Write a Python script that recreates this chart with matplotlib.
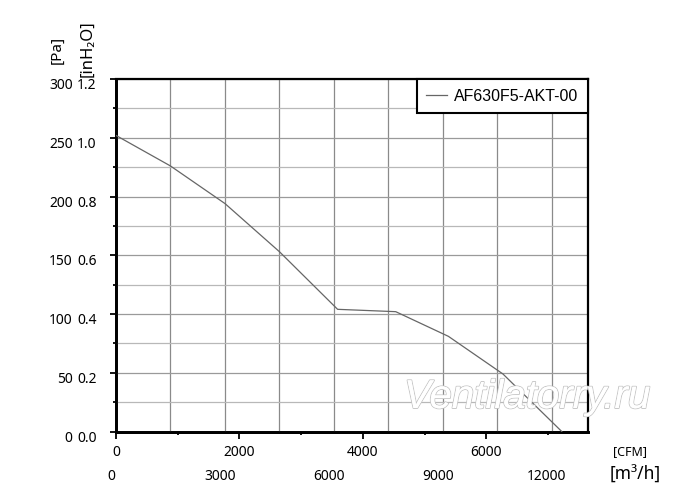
import numpy as np
import matplotlib
matplotlib.use('Agg')
import matplotlib.pyplot as plt
import matplotlib.patheffects as pe
from matplotlib.transforms import ScaledTranslation

plt.rcParams['font.family'] = ['Noto Sans', 'DejaVu Sans']

# curve (air flow in m3/h, static pressure in Pa)
flow_m3h = [0, 1500, 3000, 4500, 6100, 7700, 9150, 10650, 12270]
pressure_pa = [252, 226, 194, 153, 104, 102, 81, 49, 0]

pa_ticks = [0, 50, 100, 150, 200, 250, 300]
inh2o_ticks = [0.0, 0.2, 0.4, 0.6, 0.8, 1.0, 1.2]
cfm_ticks = [0, 2000, 4000, 6000]
cfm_minor = [1000, 3000, 5000, 7000]
m3h_grid = [0, 1500, 3000, 4500, 6000, 7500, 9000, 10500, 12000]
m3h_labels = ['0', '', '3000', '', '6000', '', '9000', '', '12000']

CFM = 1.699  # m3/h per CFM
PA_PER_INH2O = 250.0

fig = plt.figure(figsize=(7, 5.03), dpi=100)
ax = fig.add_axes([0.1657, 0.1421, 0.6747, 0.7008])

ax.plot(flow_m3h, pressure_pa, color='#666666', lw=0.9, label='AF630F5-AKT-00', zorder=3)
ax.set_xlim(0, 13000)
ax.set_ylim(0, 300)

# m3/h row + vertical grid
ax.set_xticks(m3h_grid, labels=m3h_labels)
ax.tick_params(axis='x', length=0, pad=27, labelsize=10)
ax.grid(axis='x', color='#8a8a8a', lw=0.9)

# Pa column + horizontal grid
ax.set_yticks(pa_ticks, labels=[str(v) for v in pa_ticks])
ax.set_yticks(np.arange(25, 300, 50), minor=True)
ax.tick_params(axis='y', which='major', length=4.3, width=1.3, pad=27, labelsize=10)
ax.tick_params(axis='y', which='minor', length=2.2, width=1.3)
ax.grid(axis='y', which='major', color='#9a9a9a', lw=0.9)
ax.grid(axis='y', which='minor', color='#b8b8b8', lw=0.9)
ax.set_axisbelow(True)

for s in ax.spines.values():
    s.set_linewidth(1.6)
    s.set_color('black')
ax.spines['left'].set_linewidth(2)
ax.spines['bottom'].set_linewidth(2)

# CFM axis
secx = ax.secondary_xaxis('bottom', functions=(lambda x: x / CFM, lambda x: x * CFM))
secx.set_xticks(cfm_ticks, labels=[str(v) for v in cfm_ticks])
secx.set_xticks(cfm_minor, minor=True)
secx.tick_params(which='major', length=5, width=1.3, pad=5, labelsize=10)
secx.tick_params(which='minor', length=2.5, width=1.3)
secx.spines['bottom'].set_linewidth(2)

# inH2O axis
secy = ax.secondary_yaxis('left', functions=(lambda y: y / PA_PER_INH2O, lambda y: y * PA_PER_INH2O))
secy.set_yticks(inh2o_ticks, labels=['%.1f' % v for v in inh2o_ticks])
secy.tick_params(length=0, pad=14, labelsize=10)
secy.spines['left'].set_linewidth(2)

down = ScaledTranslation(0, -0.045, fig.dpi_scale_trans)
for lbl in ax.get_yticklabels() + secy.get_yticklabels():
    lbl.set_transform(lbl.get_transform() + down)
shift = ScaledTranslation(-0.05, 0, fig.dpi_scale_trans)
for lbl in ax.get_xticklabels():
    lbl.set_transform(lbl.get_transform() + shift)

leg = ax.legend(loc='upper right', bbox_to_anchor=(1, 1), borderaxespad=0,
                fancybox=False, edgecolor='black', framealpha=1,
                handlelength=1.3, handletextpad=0.45, borderpad=0.6,
                prop={'family': 'Liberation Sans', 'size': 11.5})
leg.get_frame().set_linewidth(1.5)
leg.set_zorder(5)

fig.text(57 / 700, 1 - 50 / 503, '[Pa]', rotation=90, ha='center', va='center', fontsize=11)
fig.text(87 / 700, 1 - 49 / 503, '[inH\u2082O]', rotation=90, ha='center', va='center', fontsize=12)
fig.text(630 / 700, 1 - 452 / 503, '[CFM]', ha='center', va='center', fontsize=9)
fig.text(635 / 700, 1 - 475 / 503, '[m\u00b3/h]', ha='center', va='center', fontsize=12.5)

wm = fig.text(527 / 700, 1 - 397 / 503, 'Ventilatorry.ru', ha='center', va='center',
              fontsize=29, style='italic', family='Liberation Sans', color='white', zorder=10)
wm.set_path_effects([pe.withStroke(linewidth=1.3, foreground='#c4c4c4'), pe.Normal()])

fig.savefig('out.png', dpi=100)
